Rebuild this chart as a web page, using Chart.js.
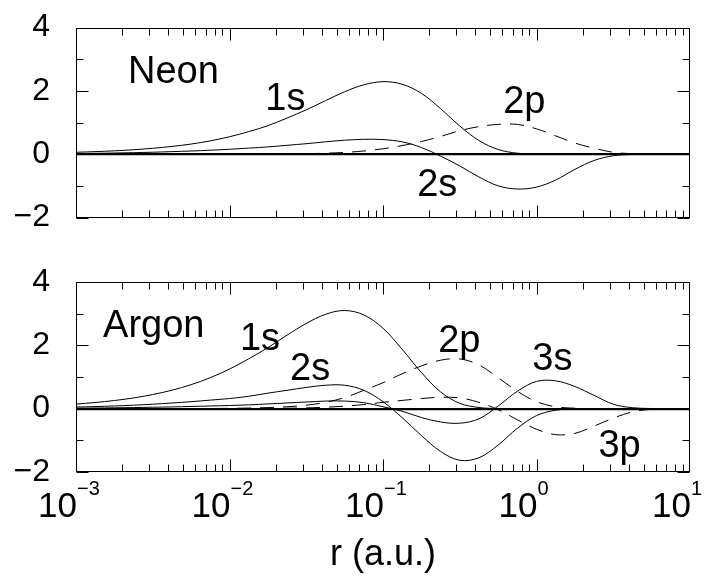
<!DOCTYPE html>
<html><head><meta charset="utf-8">
<script src="https://cdn.jsdelivr.net/npm/chart.js@4.4.0/dist/chart.umd.min.js"></script>
<style>
html,body{margin:0;padding:0;background:#fff;}
#wrap{position:relative;width:712px;height:577px;overflow:hidden;}
canvas{position:absolute;left:0;}
#cNe{top:0;} #cAr{top:240px;}
</style></head><body>
<div id="wrap"><canvas id="cNe" width="712" height="240"></canvas><canvas id="cAr" width="712" height="337"></canvas></div>
<script>
// radial grid r (a.u.), log-spaced
const rGrid = [0.001, 0.00133, 0.00178, 0.00237, 0.00316, 0.00422, 0.00562, 0.0075,
  0.01, 0.0133, 0.0178, 0.0237, 0.0316, 0.0422, 0.0562, 0.075,
  0.1, 0.133, 0.178, 0.237, 0.316, 0.422, 0.562, 0.75,
  1, 1.33, 1.78, 2.37, 3.16, 4.22, 5.62, 7.5, 10];

// Neon orbitals
const neon1s = [0.06, 0.08, 0.105, 0.14, 0.185, 0.245, 0.32, 0.42, 0.55, 0.71, 0.90, 1.14, 1.40, 1.69, 1.97, 2.19, 2.29, 2.21, 1.92, 1.44, 0.89, 0.43, 0.15, 0.03, 0.004, 0, 0, 0, 0, 0, 0, 0, 0];
const neon2s = [0.02, 0.027, 0.036, 0.047, 0.062, 0.08, 0.10, 0.125, 0.155, 0.19, 0.23, 0.28, 0.33, 0.39, 0.44, 0.47, 0.46, 0.39, 0.21, -0.06, -0.37, -0.72, -1.0, -1.10, -1.04, -0.82, -0.48, -0.20, -0.05, -0.01, 0, 0, 0];
const neon2p = [0, 0, 0, 0, 0, 0, 0, 0.001, 0.0015, 0.003, 0.005, 0.009, 0.016, 0.03, 0.055, 0.10, 0.17, 0.27, 0.40, 0.56, 0.74, 0.87, 0.94, 0.94, 0.80, 0.58, 0.35, 0.19, 0.06, 0.015, 0.003, 0, 0];

// Argon orbitals
const argon1s = [0.146, 0.194, 0.257, 0.339, 0.446, 0.583, 0.758, 0.979, 1.25, 1.57, 1.93, 2.32, 2.69, 2.98, 3.10, 2.96, 2.54, 1.88, 1.14, 0.53, 0.17, 0.036, 0.004, 0, 0, 0, 0, 0, 0, 0, 0, 0, 0];
const argon2s = [0.05, 0.065, 0.085, 0.11, 0.14, 0.18, 0.22, 0.27, 0.32, 0.39, 0.49, 0.58, 0.67, 0.74, 0.74, 0.58, 0.22, -0.28, -0.85, -1.35, -1.63, -1.55, -1.15, -0.62, -0.22, -0.05, -0.01, 0, 0, 0, 0, 0, 0];
const argon3s = [0.015, 0.02, 0.027, 0.035, 0.045, 0.055, 0.07, 0.085, 0.10, 0.12, 0.15, 0.18, 0.21, 0.24, 0.24, 0.19, 0.06, -0.08, -0.28, -0.42, -0.46, -0.32, 0.08, 0.55, 0.86, 0.88, 0.70, 0.42, 0.14, 0.03, 0.005, 0, 0];
const argon2p = [0, 0, 0, 0, 0.001, 0.002, 0.003, 0.006, 0.01, 0.02, 0.035, 0.06, 0.11, 0.2, 0.35, 0.58, 0.82, 1.1, 1.35, 1.53, 1.57, 1.38, 0.98, 0.55, 0.22, 0.06, 0.015, 0, 0, 0, 0, 0, 0];
const argon3p = [0, 0, 0, 0, 0, 0, 0.001, 0.002, 0.003, 0.005, 0.008, 0.014, 0.025, 0.045, 0.08, 0.13, 0.2, 0.26, 0.32, 0.36, 0.34, 0.2, -0.03, -0.35, -0.65, -0.82, -0.78, -0.55, -0.3, -0.1, -0.02, 0, 0];

// axis ticks / labels
const yLabelValues = [-2, 0, 2, 4];
const xDecades = [0.001, 0.01, 0.1, 1, 10];
const xDecadeExponents = ['\u22123', '\u22122', '\u22121', '0', '1'];
const xTitle = 'r (a.u.)';

// curve labels
const neonLabels = [
  {text: 'Neon', r: 0.00218, v: 2.25},
  {text: '1s', r: 0.0171, v: 1.39},
  {text: '2p', r: 0.607, v: 1.30},
  {text: '2s', r: 0.167, v: -1.33}
];
const argonLabels = [
  {text: 'Argon', r: 0.0015, v: 2.25},
  {text: '1s', r: 0.0117, v: 1.84},
  {text: '2s', r: 0.0248, v: 0.89},
  {text: '2p', r: 0.229, v: 1.78},
  {text: '3s', r: 0.939, v: 1.21},
  {text: '3p', r: 2.53, v: -1.52}
];

const FONT = "'Liberation Sans', Arial, Helvetica, sans-serif";
const pts = vals => rGrid.map((r, i) => ({x: r, y: vals[i]}));
const fmt = v => (v < 0 ? '\u2212' + Math.abs(v) : String(v));

const frameTicks = {
  id: 'frameTicks',
  afterDatasetsDraw(chart, args, opts) {
    const {ctx, chartArea: a, scales: {x, y}} = chart;
    ctx.save();
    ctx.strokeStyle = '#000';
    ctx.lineWidth = 1;
    const L = Math.round(a.left) + 0.5, R = Math.round(a.right) - 0.5;
    const T = Math.round(a.top) + 0.5, B = Math.round(a.bottom) - 0.5;
    ctx.strokeRect(L, T, R - L, B - T);
    ctx.beginPath();
    y.ticks.forEach(t => {
      const py = Math.round(y.getPixelForValue(t.value)) + 0.5;
      const len = (t.value % 2 === 0) ? 12 : 7;
      ctx.moveTo(L, py); ctx.lineTo(L + len, py);
      ctx.moveTo(R, py); ctx.lineTo(R - len, py);
    });
    for (let d = 0; d < xDecades.length - 1; d++) {
      for (let k = 1; k <= 9; k++) {
        const px = Math.round(x.getPixelForValue(k * xDecades[d])) + 0.5;
        const len = k === 1 ? 12 : 7;
        ctx.moveTo(px, B); ctx.lineTo(px, B - len);
        ctx.moveTo(px, T); ctx.lineTo(px, T + len);
      }
    }
    ctx.stroke();
    ctx.fillStyle = '#000';
    if (opts.xLabels) {
      xDecades.forEach((d, i) => {
        const px = x.getPixelForValue(d);
        ctx.font = '35px ' + FONT;
        ctx.textAlign = 'right';
        ctx.textBaseline = 'alphabetic';
        ctx.fillText('10', px + 1, a.bottom + 45);
        ctx.font = '20px ' + FONT;
        ctx.textAlign = 'left';
        ctx.fillText(xDecadeExponents[i], px + 1, a.bottom + 23);
      });
    }
    ctx.font = '38px ' + FONT;
    ctx.textAlign = 'left';
    ctx.textBaseline = 'alphabetic';
    (opts.labels || []).forEach(l => {
      ctx.fillText(l.text, x.getPixelForValue(l.r), y.getPixelForValue(l.v));
    });
    ctx.restore();
  }
};

function sets(list) {
  return list.map(([vals, dashed]) => ({
    data: pts(vals),
    borderColor: '#000',
    borderWidth: 1,
    borderDash: dashed ? [14, 9] : [],
    pointRadius: 0,
    tension: 0.35,
    fill: false
  }));
}

function yAxis() {
  return {
    min: -2, max: 4,
    afterFit: s => { s.width = 76; },
    ticks: {
      stepSize: 1, padding: 0, autoSkip: false, color: '#000',
      font: {family: FONT, size: 32},
      callback: v => yLabelValues.includes(v) ? fmt(v) : ''
    },
    grid: {
      drawTicks: true, tickLength: 26, tickColor: 'rgba(0,0,0,0)',
      color: c => (c.tick && c.tick.value === 0) ? '#000' : 'rgba(0,0,0,0)',
      lineWidth: c => (c.tick && c.tick.value === 0) ? 2.2 : 1
    },
    border: {display: false}
  };
}

function xAxis(h, withTitle) {
  return {
    type: 'logarithmic', min: 0.001, max: 10,
    afterFit: s => { s.height = h; },
    ticks: {display: false},
    grid: {display: false, drawTicks: false},
    border: {display: false},
    title: {display: withTitle, text: xTitle, color: '#000', font: {family: FONT, size: 36}, padding: {top: 0, bottom: 0}}
  };
}

new Chart(document.getElementById('cNe'), {
  type: 'line',
  plugins: [frameTicks],
  data: {datasets: sets([[neon1s, false], [neon2s, false], [neon2p, true]])},
  options: {
    responsive: false, animation: false, devicePixelRatio: 1,
    layout: {padding: {top: 27.5, bottom: 0, left: 0, right: 22}},
    plugins: {legend: {display: false}, tooltip: {enabled: false}, frameTicks: {labels: neonLabels}},
    scales: {x: xAxis(22.5, false), y: yAxis()}
  }
});

new Chart(document.getElementById('cAr'), {
  type: 'line',
  plugins: [frameTicks],
  data: {datasets: sets([[argon1s, false], [argon2s, false], [argon3s, false], [argon2p, true], [argon3p, true]])},
  options: {
    responsive: false, animation: false, devicePixelRatio: 1,
    layout: {padding: {top: 42, bottom: 0, left: 0, right: 22}},
    plugins: {legend: {display: false}, tooltip: {enabled: false}, frameTicks: {labels: argonLabels, xLabels: true}},
    scales: {x: xAxis(105, true), y: yAxis()}
  }
});
</script>
</body></html>
